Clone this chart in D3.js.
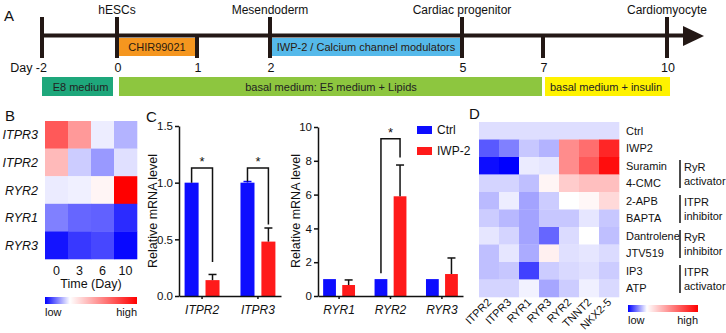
<!DOCTYPE html>
<html>
<head>
<meta charset="utf-8">
<script src="https://cdn.jsdelivr.net/npm/d3@7"></script>
<style>
  body { margin: 0; background: #fff; }
  text { font-family: "Liberation Sans", Arial, sans-serif; fill: #111; }
</style>
</head>
<body>
<svg id="fig"></svg>
<script>
const width = 726;
const height = 333;

// ---- data: panel A timeline
const days = [-2, 0, 1, 2, 5, 7, 10];
const dayLabels = ["Day -2", "0", "1", "2", "5", "7", "10"];
const tallTicks = [-2, 0, 2, 5, 10];
const stages = [
  { day: 0, name: "hESCs" },
  { day: 2, name: "Mesendoderm" },
  { day: 5, name: "Cardiac progenitor" },
  { day: 10, name: "Cardiomyocyte" }
];
const treatments = [
  { from: 0, to: 1, name: "CHIR99021", color: "#f5961f" },
  { from: 2, to: 5, name: "IWP-2 / Calcium channel modulators", color: "#55b9ea" }
];
const media = [
  { from: -2, to: 0, name: "E8 medium", color: "#1ea77b" },
  { from: 0, to: 7, name: "basal medium: E5 medium + Lipids", color: "#8dc63f" },
  { from: 7, to: 10, name: "basal medium + insulin", color: "#fff200" }
];

// ---- data: panel B heatmap (relative expression, -1 low .. 1 high)
const bGenes = ["ITPR3", "ITPR2", "RYR2", "RYR1", "RYR3"];
const bTimes = ["0", "3", "6", "10"];
const bValues = [
  [0.65, 0.4, -0.07, -0.3],
  [0.27, -0.2, -0.4, -0.12],
  [-0.08, -0.06, 0.04, 1.0],
  [-0.5, -0.6, -0.62, -0.83],
  [-0.92, -0.78, -0.72, -0.97]
];

// ---- data: panel C bars
const series = ["Ctrl", "IWP-2"];
const itprGenes = ["ITPR2", "ITPR3"];
const itprCtrl = [1.0, 1.0];
const itprIwp = [0.14, 0.48];
const itprCtrlErr = [0, 0.01];
const itprIwpErr = [0.05, 0.12];
const ryrGenes = ["RYR1", "RYR2", "RYR3"];
const ryrCtrl = [1.0, 1.0, 1.0];
const ryrIwp = [0.65, 5.9, 1.3];
const ryrCtrlErr = [0, 0, 0];
const ryrIwpErr = [0.3, 1.85, 0.95];
// significance brackets: [gene, top, left leg end, right leg end]
const itprSig = [["ITPR2", 1.13, 1.0, 0.3], ["ITPR3", 1.13, 1.01, 0.63]];
const ryrSig = [["RYR2", 9.3, 1.35, 8.2]];

// ---- data: panel D heatmap
const dCols = ["ITPR2", "ITPR3", "RYR1", "RYR3", "RYR2", "TNNT2", "NKX2-5"];
const dRows = ["Ctrl", "IWP2", "Suramin", "4-CMC", "2-APB", "BAPTA", "Dantrolene", "JTV519", "IP3", "ATP"];
const dValues = [
  [-0.13, -0.13, -0.13, -0.13, -0.13, -0.13, -0.13],
  [-0.65, -0.5, -0.22, -0.3, 0.45, 0.57, 0.85],
  [-0.95, -1.0, -0.08, -0.1, 0.45, 0.65, 0.95],
  [-0.17, -0.17, -0.25, 0.04, 0.2, 0.25, 0.25],
  [-0.27, -0.07, -0.36, -0.2, 0.0, 0.03, 0.15],
  [-0.2, -0.28, -0.36, -0.22, -0.22, -0.1, -0.22],
  [-0.1, -0.17, -0.36, -0.6, -0.14, 0.0, -0.25],
  [-0.25, -0.1, -0.33, 0.06, -0.12, -0.1, -0.14],
  [-0.25, -0.22, -0.75, -0.2, -0.15, -0.12, -0.2],
  [-0.17, -0.17, -0.05, -0.35, -0.2, -0.06, -0.15]
];
const dGroups = [
  { rows: ["Suramin", "4-CMC"], label: ["RyR", "activator"] },
  { rows: ["2-APB", "BAPTA"], label: ["ITPR", "inhibitor"] },
  { rows: ["Dantrolene", "JTV519"], label: ["RyR", "inhibitor"] },
  { rows: ["IP3", "ATP"], label: ["ITPR", "activator"] }
];

const heat = d3.scaleLinear().domain([-1, 0, 1]).range(["#0000ff", "#ffffff", "#ff0000"]);
const legendStops = [[0, "#0000ff"], [0.27, "#ffffff"], [1, "#ff0000"]];
const blue = "#0d0dff";
const red = "#ff1a1a";

const svg = d3.select("#fig").attr("width", width).attr("height", height);

const defs = svg.append("defs");
const grad = defs.append("linearGradient").attr("id", "lowhigh");
grad.selectAll("stop").data(legendStops).enter().append("stop")
  .attr("offset", d => d[0]).attr("stop-color", d => d[1]);

function panelLetter(x, y, t) {
  svg.append("text").attr("x", x).attr("y", y).attr("font-size", 15).text(t);
}

// ================= Panel A =================
panelLetter(4, 21, "A");
const xDay = d3.scaleLinear().domain(days).range([42, 117, 197, 270, 462, 543, 667]);
const gA = svg.append("g");

gA.selectAll(".treat").data(treatments).enter().append("rect")
  .attr("x", d => xDay(d.from)).attr("y", 38)
  .attr("width", d => xDay(d.to) - xDay(d.from)).attr("height", 18)
  .attr("fill", d => d.color);
gA.selectAll(".treatTxt").data(treatments).enter().append("text")
  .attr("x", d => (xDay(d.from) + xDay(d.to)) / 2).attr("y", 51)
  .attr("text-anchor", "middle").attr("font-size", 11).style("fill", "#2a1a10")
  .text(d => d.name);

gA.append("line").attr("x1", xDay(-2) - 2).attr("x2", 686).attr("y1", 35.5).attr("y2", 35.5)
  .attr("stroke", "#231815").attr("stroke-width", 4);
gA.append("path").attr("d", "M683,26 L704,36 L683,46 Z").attr("fill", "#231815");

gA.selectAll(".dtick").data(days).enter().append("line")
  .attr("x1", d => xDay(d)).attr("x2", d => xDay(d))
  .attr("y1", d => tallTicks.includes(d) ? 17 : 35).attr("y2", 58)
  .attr("stroke", "#231815").attr("stroke-width", 4);

gA.selectAll(".dlab").data(days).enter().append("text")
  .attr("x", (d, i) => i === 0 ? xDay(d) + 5 : xDay(d) + 1).attr("y", 72)
  .attr("text-anchor", (d, i) => i === 0 ? "end" : "middle").attr("font-size", 12.5)
  .text((d, i) => dayLabels[i]);

gA.selectAll(".stage").data(stages).enter().append("text")
  .attr("x", d => xDay(d.day)).attr("y", 14).attr("text-anchor", "middle")
  .attr("font-size", 12).text(d => d.name);

gA.selectAll(".med").data(media).enter().append("rect")
  .attr("x", (d, i) => xDay(d.from) + (i === 0 ? 0 : 2))
  .attr("y", 77)
  .attr("width", (d, i) => xDay(d.to) - xDay(d.from) - (i === 0 ? 4 : 3) + (i === 2 ? 4 : 0))
  .attr("height", 19).attr("fill", d => d.color);
gA.selectAll(".medTxt").data(media).enter().append("text")
  .attr("x", d => (xDay(d.from) + xDay(d.to)) / 2 + 1).attr("y", 90.5)
  .attr("text-anchor", "middle").attr("font-size", 11).style("fill", "#222")
  .text(d => d.name);

// ================= Panel B =================
panelLetter(5, 121, "B");
const bx = d3.scaleBand().domain(bTimes).range([45, 137]);
const by = d3.scaleBand().domain(bGenes).range([121, 259]);
const gB = svg.append("g");
bGenes.forEach((g, r) => {
  gB.selectAll(".c" + r).data(bValues[r]).enter().append("rect")
    .attr("x", (d, i) => bx(bTimes[i])).attr("y", by(g))
    .attr("width", bx.bandwidth() + 0.3).attr("height", by.bandwidth() + 0.3)
    .attr("fill", d => heat(d));
});
gB.selectAll(".rl").data(bGenes).enter().append("text")
  .attr("x", 38).attr("y", d => by(d) + by.bandwidth() / 2 + 4.5)
  .attr("text-anchor", "end").attr("font-size", 12.5).attr("font-style", "italic")
  .text(d => d);
gB.selectAll(".cl").data(bTimes).enter().append("text")
  .attr("x", d => bx(d) + bx.bandwidth() / 2).attr("y", 275)
  .attr("text-anchor", "middle").attr("font-size", 12.5).text(d => d);
gB.append("text").attr("x", 91).attr("y", 288).attr("text-anchor", "middle")
  .attr("font-size", 12.5).text("Time (Day)");
gB.append("rect").attr("x", 45).attr("y", 297).attr("width", 92).attr("height", 7)
  .attr("fill", "url(#lowhigh)");
gB.append("text").attr("x", 45).attr("y", 316).attr("font-size", 11).text("low");
gB.append("text").attr("x", 137).attr("y", 316).attr("text-anchor", "end")
  .attr("font-size", 11).text("high");

// ================= Panel C =================
panelLetter(146, 122, "C");

function barChart(opt) {
  const g = svg.append("g");
  const y = d3.scaleLinear().domain(opt.yDomain).range([296, opt.yTop]);
  const x0 = d3.scaleBand().domain(opt.genes).range(opt.xRange)
    .paddingInner(opt.pIn).paddingOuter(opt.pOut);
  const x1 = d3.scaleBand().domain(series).range([0, x0.bandwidth()]).paddingInner(0.33);
  const rows = opt.genes.map((gene, i) => ({
    gene,
    vals: [
      { s: "Ctrl", v: opt.ctrl[i], e: opt.ctrlErr[i] },
      { s: "IWP-2", v: opt.iwp[i], e: opt.iwpErr[i] }
    ]
  }));
  const grp = g.selectAll(".grp").data(rows).enter().append("g")
    .attr("transform", d => `translate(${x0(d.gene)},0)`);
  grp.selectAll("rect").data(d => d.vals).enter().append("rect")
    .attr("x", d => x1(d.s)).attr("y", d => y(d.v))
    .attr("width", x1.bandwidth()).attr("height", d => y(0) - y(d.v))
    .attr("fill", d => d.s === "Ctrl" ? blue : red);
  const eb = grp.selectAll(".eb").data(d => d.vals.filter(v => v.e > 0)).enter().append("g");
  eb.append("line")
    .attr("x1", d => x1(d.s) + x1.bandwidth() / 2).attr("x2", d => x1(d.s) + x1.bandwidth() / 2)
    .attr("y1", d => y(d.v)).attr("y2", d => y(d.v + d.e))
    .attr("stroke", d => d.s === "Ctrl" ? blue : "#111").attr("stroke-width", 1.5);
  eb.append("line")
    .attr("x1", d => x1(d.s) + x1.bandwidth() / 2 - 4).attr("x2", d => x1(d.s) + x1.bandwidth() / 2 + 4)
    .attr("y1", d => y(d.v + d.e)).attr("y2", d => y(d.v + d.e))
    .attr("stroke", d => d.s === "Ctrl" ? blue : "#111").attr("stroke-width", 1.5);

  // significance
  opt.sig.forEach(([gene, top, l, r]) => {
    const xl = x0(gene) + x1("Ctrl") + x1.bandwidth() / 2;
    const xr = x0(gene) + x1("IWP-2") + x1.bandwidth() / 2;
    g.append("path")
      .attr("d", `M${xl},${y(l)} L${xl},${y(top)} L${xr},${y(top)} L${xr},${y(r)}`)
      .attr("fill", "none").attr("stroke", "#111").attr("stroke-width", 1.5);
    g.append("text").attr("x", (xl + xr) / 2).attr("y", y(top) - 2)
      .attr("text-anchor", "middle").attr("font-size", 13).text("*");
  });

  const yAxis = d3.axisLeft(y).tickValues(opt.yTicks).tickFormat(opt.fmt)
    .tickSize(4).tickSizeOuter(0).tickPadding(2);
  const ya = g.append("g").attr("transform", `translate(${opt.xRange[0]},0)`).call(yAxis);
  const xAxis = d3.axisBottom(x0).tickSize(3).tickSizeOuter(0).tickPadding(6);
  const xa = g.append("g").attr("transform", "translate(0,296)").call(xAxis);
  [ya, xa].forEach(a => {
    a.select(".domain").attr("stroke", "#111").attr("stroke-width", 1.5);
    a.selectAll(".tick line").attr("stroke", "#111").attr("stroke-width", 1.5);
    a.selectAll("text").attr("font-size", 11.5)
      .attr("font-family", "'Liberation Sans', Arial, sans-serif").style("fill", "#111");
  });
  xa.selectAll("text").attr("font-style", "italic").attr("font-size", 12);
  g.append("text").attr("transform", `translate(${opt.labelX},211) rotate(-90)`)
    .attr("text-anchor", "middle").attr("font-size", 12.5).text("Relative mRNA level");
}

barChart({
  genes: itprGenes, ctrl: itprCtrl, iwp: itprIwp, ctrlErr: itprCtrlErr, iwpErr: itprIwpErr,
  sig: itprSig, yDomain: [0, 1.5], yTop: 126, yTicks: [0, 0.5, 1.0, 1.5], fmt: d3.format(".1f"),
  xRange: [179, 281], pIn: 0.375, pOut: 0.1, labelX: 157
});
barChart({
  genes: ryrGenes, ctrl: ryrCtrl, iwp: ryrIwp, ctrlErr: ryrCtrlErr, iwpErr: ryrIwpErr,
  sig: ryrSig, yDomain: [0, 10], yTop: 127, yTicks: [0, 2, 4, 6, 8, 10], fmt: d3.format("d"),
  xRange: [318, 463], pIn: 0.38, pOut: 0.1, labelX: 300
});

// legend
const leg = svg.append("g");
leg.selectAll("rect").data(series).enter().append("rect")
  .attr("x", 417).attr("y", (d, i) => 126 + i * 21).attr("width", 15).attr("height", 8)
  .attr("fill", d => d === "Ctrl" ? blue : red);
leg.selectAll("text").data(series).enter().append("text")
  .attr("x", 437).attr("y", (d, i) => 134 + i * 21).attr("font-size", 12).text(d => d);

// ================= Panel D =================
panelLetter(469, 119, "D");
const dx = d3.scaleBand().domain(dCols).range([479, 619]);
const dy = d3.scaleBand().domain(dRows).range([122, 297]);
const gD = svg.append("g");
dRows.forEach((row, r) => {
  gD.selectAll(".d" + r).data(dValues[r]).enter().append("rect")
    .attr("x", (d, i) => dx(dCols[i])).attr("y", dy(row))
    .attr("width", dx.bandwidth() + 0.3).attr("height", dy.bandwidth() + 0.3)
    .attr("fill", d => heat(d));
});
gD.selectAll(".rl").data(dRows).enter().append("text")
  .attr("x", 626).attr("y", d => dy(d) + dy.bandwidth() / 2 + 4)
  .attr("font-size", 11).text(d => d);
gD.selectAll(".cl").data(dCols).enter().append("text")
  .attr("transform", d => `translate(${dx(d) + dx.bandwidth() / 2 + 3},${303}) rotate(-45)`)
  .attr("text-anchor", "end").attr("font-size", 11).text(d => d);

dGroups.forEach(grp => {
  const top = dy(grp.rows[0]) + 3;
  const bot = dy(grp.rows[1]) + dy.bandwidth() - 4;
  gD.append("line").attr("x1", 680).attr("x2", 680).attr("y1", top).attr("y2", bot)
    .attr("stroke", "#111").attr("stroke-width", 1.5);
  grp.label.forEach((t, i) => {
    gD.append("text").attr("x", 684)
      .attr("y", dy(grp.rows[i]) + dy.bandwidth() / 2 + (i === 0 ? 5 : 2))
      .attr("font-size", 11).text(t);
  });
});

gD.append("rect").attr("x", 628).attr("y", 305).attr("width", 70).attr("height", 7)
  .attr("fill", "url(#lowhigh)");
gD.append("text").attr("x", 628).attr("y", 324).attr("font-size", 11).text("low");
gD.append("text").attr("x", 698).attr("y", 324).attr("text-anchor", "end")
  .attr("font-size", 11).text("high");
</script>
</body>
</html>
